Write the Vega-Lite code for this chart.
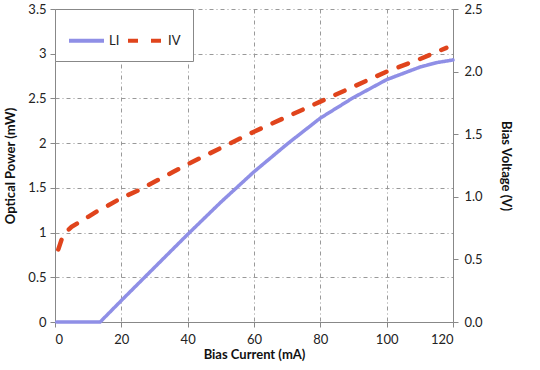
{
  "$schema": "https://vega.github.io/schema/vega-lite/v6.json",
  "autosize": "none",
  "width": 398,
  "height": 313,
  "padding": {"left": 55, "top": 9, "right": 87, "bottom": 48},
  "background": "white",
  "config": {
    "view": {"stroke": null},
    "font": "Lato",
    "axis": {
      "labelFont": "Lato",
      "labelFontSize": 13,
      "labelColor": "#222",
      "titleFont": "Lato",
      "titleFontSize": 13,
      "titleFontWeight": "bold",
      "titleColor": "#111",
      "domainColor": "#888",
      "tickColor": "#888",
      "tickSize": 5,
      "gridColor": "#999",
      "gridDash": [4, 3, 1, 3],
      "gridWidth": 1
    }
  },
  "data": {
    "values": [
      {"I": 0.5, "v": 0, "s": "LI"},
      {"I": 13.6, "v": 0, "s": "LI"},
      {"I": 20, "v": 0.24, "s": "LI"},
      {"I": 30, "v": 0.61, "s": "LI"},
      {"I": 40, "v": 0.98, "s": "LI"},
      {"I": 50, "v": 1.34, "s": "LI"},
      {"I": 60, "v": 1.68, "s": "LI"},
      {"I": 70, "v": 1.99, "s": "LI"},
      {"I": 80, "v": 2.28, "s": "LI"},
      {"I": 90, "v": 2.51, "s": "LI"},
      {"I": 100, "v": 2.71, "s": "LI"},
      {"I": 110, "v": 2.85, "s": "LI"},
      {"I": 115, "v": 2.9, "s": "LI"},
      {"I": 120, "v": 2.93, "s": "LI"},
      {"I": 1, "v": 0.58, "s": "IV"},
      {"I": 2, "v": 0.66, "s": "IV"},
      {"I": 3, "v": 0.71, "s": "IV"},
      {"I": 5, "v": 0.76, "s": "IV"},
      {"I": 7.5, "v": 0.8, "s": "IV"},
      {"I": 10, "v": 0.84, "s": "IV"},
      {"I": 13, "v": 0.89, "s": "IV"},
      {"I": 16, "v": 0.93, "s": "IV"},
      {"I": 20, "v": 0.99, "s": "IV"},
      {"I": 25, "v": 1.05, "s": "IV"},
      {"I": 30, "v": 1.12, "s": "IV"},
      {"I": 35, "v": 1.19, "s": "IV"},
      {"I": 40, "v": 1.26, "s": "IV"},
      {"I": 50, "v": 1.39, "s": "IV"},
      {"I": 60, "v": 1.52, "s": "IV"},
      {"I": 70, "v": 1.64, "s": "IV"},
      {"I": 80, "v": 1.76, "s": "IV"},
      {"I": 90, "v": 1.88, "s": "IV"},
      {"I": 100, "v": 2.0, "s": "IV"},
      {"I": 110, "v": 2.1, "s": "IV"},
      {"I": 118, "v": 2.19, "s": "IV"}
    ]
  },
  "encoding": {
    "x": {
      "field": "I", "type": "quantitative",
      "scale": {"domain": [0, 120], "nice": false},
      "axis": {"values": [0, 20, 40, 60, 80, 100, 120], "title": "Bias Current (mA)", "titlePadding": 2, "labelPadding": 6, "grid": true}
    },
    "color": {
      "field": "s", "type": "nominal",
      "scale": {"domain": ["LI", "IV"], "range": ["#8f8fe6", "#e0441c"]},
      "legend": {
        "title": null, "orient": "none", "legendX": 0, "legendY": 0,
        "direction": "horizontal", "symbolType": "stroke", "symbolSize": 1225,
        "symbolStrokeWidth": 4, "padding": 12, "labelOffset": 3, "columnPadding": 0,
        "labelFont": "Lato", "labelFontSize": 13, "labelColor": "#222",
        "fillColor": "white", "strokeColor": "#888"
      }
    },
    "strokeDash": {
      "field": "s", "type": "nominal",
      "scale": {"domain": ["LI", "IV"], "range": [[1, 0], [10, 13]]},
      "legend": {
        "title": null, "orient": "none", "legendX": 0, "legendY": 0,
        "direction": "horizontal", "symbolType": "stroke", "symbolSize": 1225,
        "symbolStrokeWidth": 4, "padding": 12, "labelOffset": 3, "columnPadding": 0,
        "labelFont": "Lato", "labelFontSize": 13, "labelColor": "#222",
        "fillColor": "white", "strokeColor": "#888"
      }
    }
  },
  "layer": [
    {
      "transform": [{"filter": "datum.s === 'LI'"}],
      "mark": {"type": "line", "strokeWidth": 3.5, "strokeCap": "round"},
      "encoding": {
        "y": {
          "field": "v", "type": "quantitative",
          "scale": {"domain": [0, 3.5], "nice": false},
          "axis": {"values": [0, 0.5, 1, 1.5, 2, 2.5, 3, 3.5], "format": "~g", "title": "Optical Power (mW)", "titlePadding": 10, "labelPadding": 4, "grid": true, "orient": "left"}
        }
      }
    },
    {
      "transform": [{"filter": "datum.s === 'IV'"}],
      "mark": {"type": "line", "strokeWidth": 4.5, "strokeCap": "round"},
      "encoding": {
        "y": {
          "field": "v", "type": "quantitative",
          "scale": {"domain": [0, 2.5], "nice": false},
          "axis": {"values": [0, 0.5, 1, 1.5, 2, 2.5], "format": ".1f", "title": "Bias Voltage (V)", "titlePadding": 16, "labelPadding": 6, "grid": false, "orient": "right"}
        }
      }
    }
  ],
  "resolve": {"scale": {"y": "independent"}, "axis": {"y": "independent"}}
}
